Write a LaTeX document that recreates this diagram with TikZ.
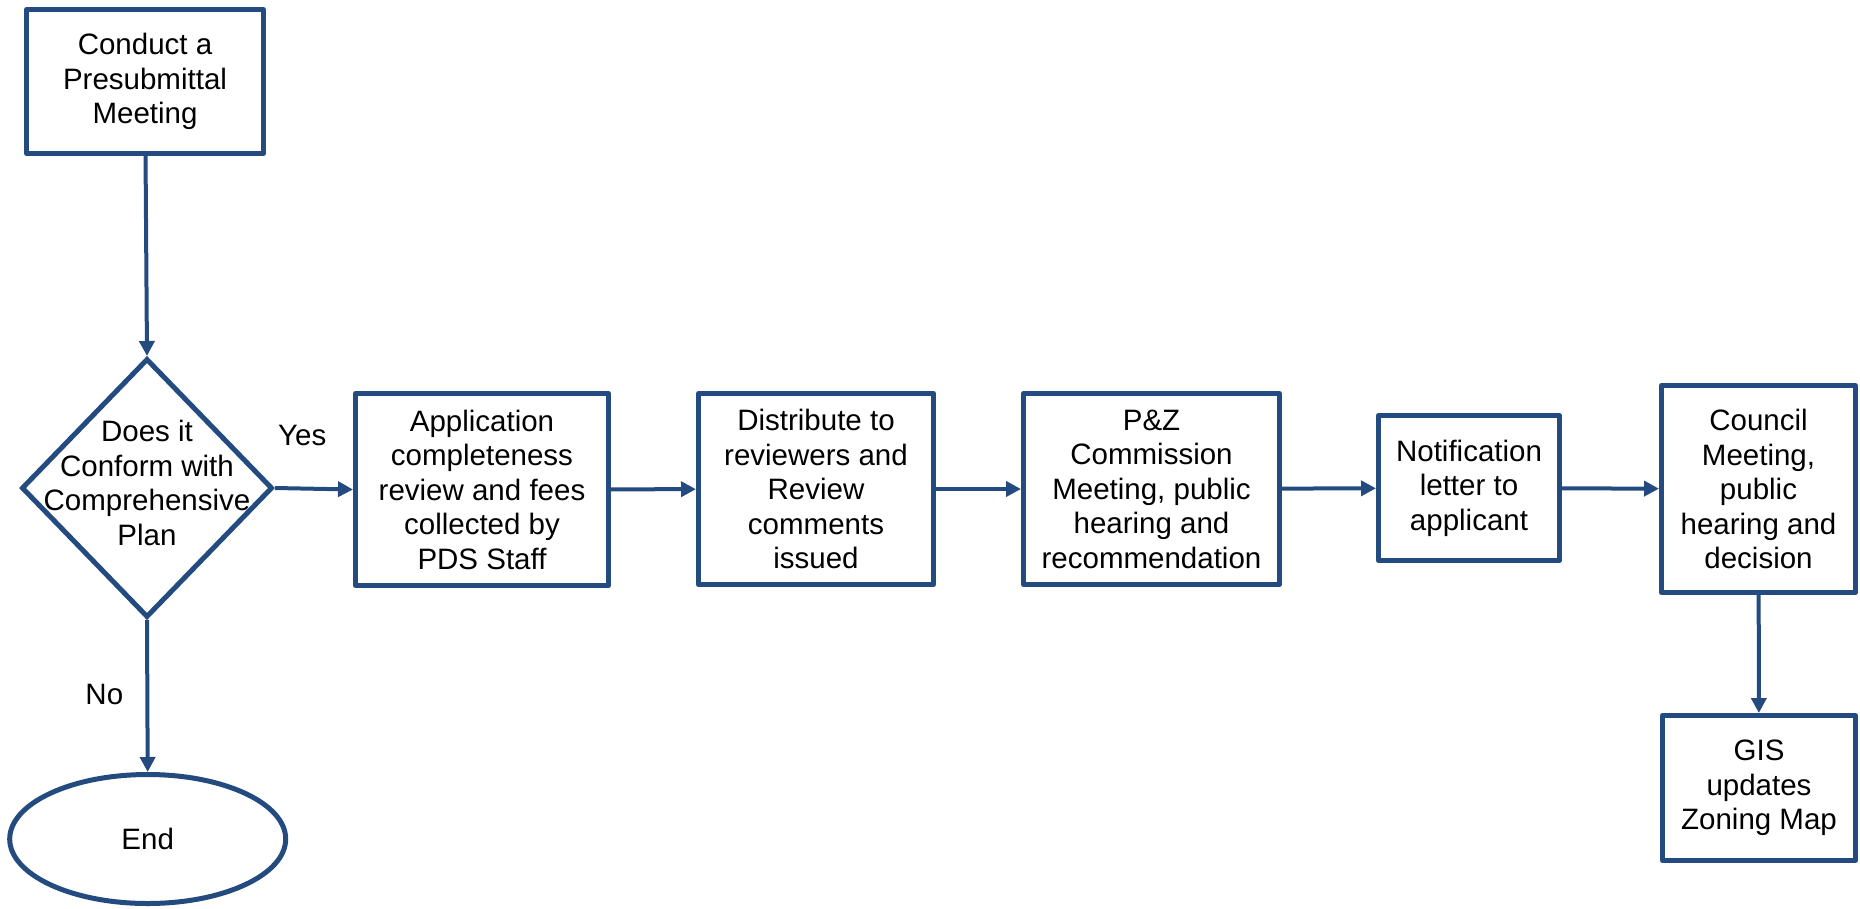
\documentclass[tikz,border=0pt]{standalone}
\usepackage{fontspec}
\setmainfont{Liberation Sans}
\usetikzlibrary{shapes.geometric,arrows.meta}
\definecolor{fcblue}{RGB}{36,75,128}
\begin{document}
\begin{tikzpicture}[x=1pt,y=-1pt,
  txt/.style={inner sep=0pt, align=center, font=\fontsize{29.5}{34.5}\selectfont},
  box/.style={txt, draw=fcblue, line width=5pt, line join=round, fill=white},
  dia/.style={diamond, draw=fcblue, line width=5pt, line join=miter, fill=white, inner sep=0pt},
  oval/.style={txt, ellipse, draw=fcblue, line width=5pt, fill=white},
  arr/.style={draw=fcblue, line width=4pt, -{Triangle[length=15pt,width=15pt]}},
  lbl/.style={txt}]
\useasboundingbox (0,0) rectangle (1860,908);
\node[box, minimum width=237pt, minimum height=144pt] (b1) at (145,81.5) {Conduct a\\Presubmittal\\Meeting};
\node[dia, minimum width=251pt, minimum height=259pt] (dec) at (147,488) {};
\node[txt] (dectxt) at ([yshift=5pt]dec.center) {Does it\\Conform with\\Comprehensive\\Plan};
\node[oval, minimum width=276pt, minimum height=129pt] (end) at (147.7,839) {End};
\node[box, minimum width=253pt, minimum height=192pt] (b2) at (482,489.5) {Application\\completeness\\review and fees\\collected by\\PDS Staff};
\node[box, minimum width=235pt, minimum height=191pt] (b3) at (816,489) {Distribute to\\reviewers and\\Review\\comments\\issued};
\node[box, minimum width=256pt, minimum height=191pt] (b4) at (1151.5,489) {P\&Z\\Commission\\Meeting, public\\hearing and\\recommendation};
\node[box, minimum width=181pt, minimum height=145pt] (b5) at (1469,488) {Notification\\letter to\\applicant};
\node[box, minimum width=194pt, minimum height=207pt] (b6) at (1758.5,489) {Council\\Meeting,\\public\\hearing and\\decision};
\node[box, minimum width=193pt, minimum height=145pt] (b7) at (1759,788) {GIS\\updates\\Zoning Map};
\draw[arr] (b1) -- (dec.north);
\draw[arr] (dec.east) -- node[lbl, pos=0.35, yshift=53pt] (yes) {Yes} (b2.west);
\draw[arr] (dec.south) -- node[lbl, pos=0.49, xshift=-43pt] (no) {No} (end.north);
\draw[arr] (b2) -- (b3);
\draw[arr] (b3) -- (b4);
\draw[arr] (b4) -- (b5);
\draw[arr] (b5) -- (b6);
\draw[arr] (b6) -- (b7);
\end{tikzpicture}
\end{document}
